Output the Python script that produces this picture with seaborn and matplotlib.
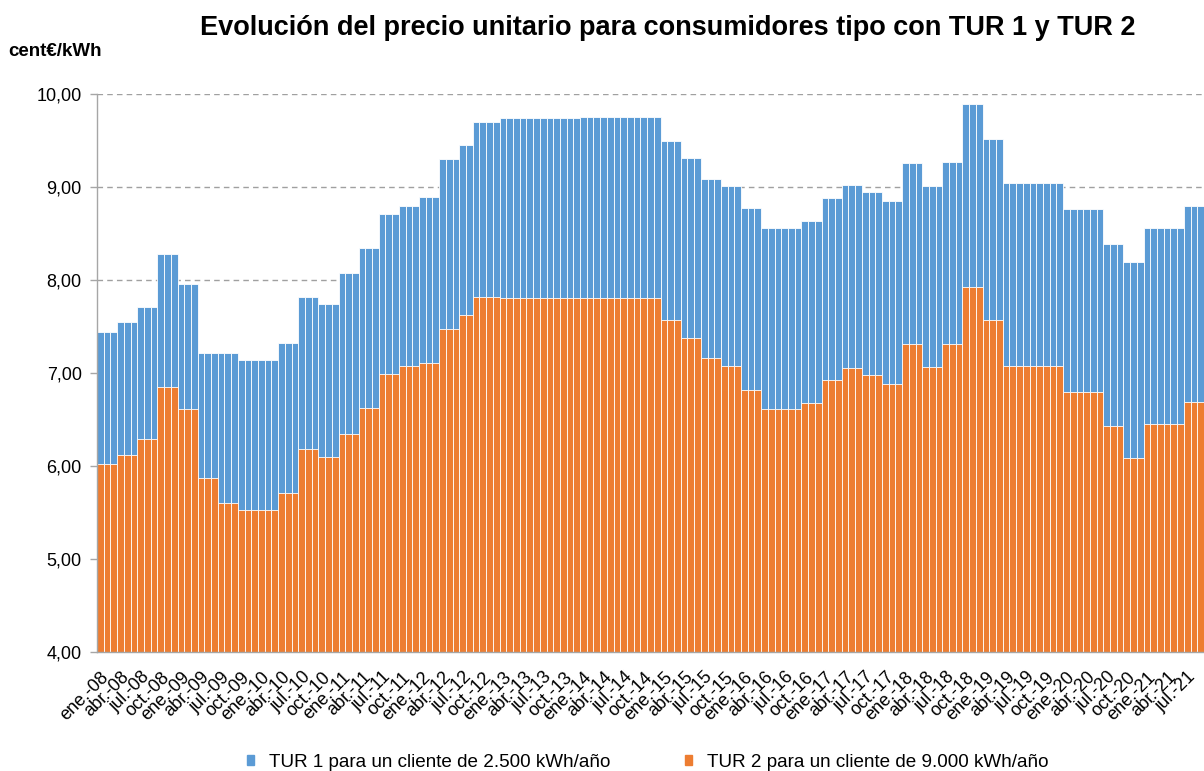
import numpy as np
import seaborn as sns
import matplotlib.pyplot as plt
from matplotlib.patches import Patch

# meses (ene.-08 ... sep.-21)
month_names = ['ene.', 'feb.', 'mar.', 'abr.', 'may.', 'jun.',
               'jul.', 'ago.', 'sep.', 'oct.', 'nov.', 'dic.']
months = [m + '-' + '%02d' % y for y in range(8, 22) for m in month_names][:165]

# TUR 1 para un cliente de 2.500 kWh/año (cent€/kWh)
tur1 = [
    7.44, 7.44, 7.44, 7.55, 7.55, 7.55, 7.71, 7.71, 7.71, 8.28, 8.28, 8.28,  # 2008
    7.96, 7.96, 7.96, 7.22, 7.22, 7.22, 7.21, 7.21, 7.21, 7.14, 7.14, 7.14,  # 2009
    7.14, 7.14, 7.14, 7.32, 7.32, 7.32, 7.82, 7.82, 7.82, 7.74, 7.74, 7.74,  # 2010
    8.07, 8.07, 8.07, 8.34, 8.34, 8.34, 8.71, 8.71, 8.71, 8.80, 8.80, 8.80,  # 2011
    8.89, 8.89, 8.89, 9.30, 9.30, 9.30, 9.45, 9.45, 9.70, 9.70, 9.70, 9.70,  # 2012
    9.74, 9.74, 9.74, 9.74, 9.74, 9.74, 9.74, 9.74, 9.74, 9.74, 9.74, 9.74,  # 2013
    9.75, 9.75, 9.75, 9.75, 9.75, 9.75, 9.75, 9.75, 9.75, 9.75, 9.75, 9.75,  # 2014
    9.50, 9.50, 9.50, 9.31, 9.31, 9.31, 9.09, 9.09, 9.09, 9.01, 9.01, 9.01,  # 2015
    8.77, 8.77, 8.77, 8.56, 8.56, 8.56, 8.56, 8.56, 8.56, 8.63, 8.63, 8.63,  # 2016
    8.88, 8.88, 8.88, 9.02, 9.02, 9.02, 8.95, 8.95, 8.95, 8.85, 8.85, 8.85,  # 2017
    9.26, 9.26, 9.26, 9.01, 9.01, 9.01, 9.27, 9.27, 9.27, 9.89, 9.89, 9.89,  # 2018
    9.52, 9.52, 9.52, 9.04, 9.04, 9.04, 9.04, 9.04, 9.04, 9.04, 9.04, 9.04,  # 2019
    8.76, 8.76, 8.76, 8.76, 8.76, 8.76, 8.39, 8.39, 8.39, 8.19, 8.19, 8.19,  # 2020
    8.56, 8.56, 8.56, 8.56, 8.56, 8.56, 8.80, 8.80, 8.80,                    # 2021
]

# TUR 2 para un cliente de 9.000 kWh/año (cent€/kWh)
tur2 = [
    6.02, 6.02, 6.02, 6.12, 6.12, 6.12, 6.29, 6.29, 6.29, 6.85, 6.85, 6.85,  # 2008
    6.61, 6.61, 6.61, 5.87, 5.87, 5.87, 5.60, 5.60, 5.60, 5.53, 5.53, 5.53,  # 2009
    5.53, 5.53, 5.53, 5.71, 5.71, 5.71, 6.18, 6.18, 6.18, 6.10, 6.10, 6.10,  # 2010
    6.34, 6.34, 6.34, 6.62, 6.62, 6.62, 6.99, 6.99, 6.99, 7.08, 7.08, 7.08,  # 2011
    7.11, 7.11, 7.11, 7.47, 7.47, 7.47, 7.62, 7.62, 7.82, 7.82, 7.82, 7.82,  # 2012
    7.81, 7.81, 7.81, 7.81, 7.81, 7.81, 7.81, 7.81, 7.81, 7.81, 7.81, 7.81,  # 2013
    7.81, 7.81, 7.81, 7.81, 7.81, 7.81, 7.81, 7.81, 7.81, 7.81, 7.81, 7.81,  # 2014
    7.57, 7.57, 7.57, 7.38, 7.38, 7.38, 7.16, 7.16, 7.16, 7.08, 7.08, 7.08,  # 2015
    6.82, 6.82, 6.82, 6.61, 6.61, 6.61, 6.61, 6.61, 6.61, 6.68, 6.68, 6.68,  # 2016
    6.92, 6.92, 6.92, 7.05, 7.05, 7.05, 6.98, 6.98, 6.98, 6.88, 6.88, 6.88,  # 2017
    7.31, 7.31, 7.31, 7.06, 7.06, 7.06, 7.31, 7.31, 7.31, 7.93, 7.93, 7.93,  # 2018
    7.57, 7.57, 7.57, 7.08, 7.08, 7.08, 7.08, 7.08, 7.08, 7.08, 7.08, 7.08,  # 2019
    6.80, 6.80, 6.80, 6.80, 6.80, 6.80, 6.43, 6.43, 6.43, 6.09, 6.09, 6.09,  # 2020
    6.45, 6.45, 6.45, 6.45, 6.45, 6.45, 6.69, 6.69, 6.69,                    # 2021
]

series_labels = ['TUR 1 para un cliente de 2.500 kWh/año',
                 'TUR 2 para un cliente de 9.000 kWh/año']
blue = '#5B9BD5'
orange = '#ED7D31'

sns.set_style('white')
plt.rcParams['font.family'] = ['Liberation Sans', 'DejaVu Sans']
plt.rcParams['text.color'] = 'black'

fig = plt.figure(figsize=(12.04, 7.71), dpi=100)
ax = fig.add_axes([97 / 1204, 1 - 652 / 771, 1 - 97 / 1204, (652 - 94) / 771])

# TUR 1 detras, TUR 2 delante (ambas desde el eje)
sns.barplot(x=months, y=tur1, color=blue, saturation=1, width=1.0,
            edgecolor='white', linewidth=0.6, ax=ax, order=months)
sns.barplot(x=months, y=tur2, color=orange, saturation=1, width=1.0,
            edgecolor='white', linewidth=0.6, ax=ax, order=months)

ax.set_ylim(4, 10)
ax.set_xlim(-0.5, len(months) - 0.5)
ax.set_yticks(np.arange(4, 11, 1))
ax.set_yticklabels(['%d,00' % v for v in range(4, 11)], fontsize=13)
ax.yaxis.grid(True, linestyle=(0, (4, 3)), color='#A0A0A0', linewidth=1)
ax.set_axisbelow(True)

ax.set_xticks(range(0, len(months), 3))
ax.set_xticklabels(months[::3], rotation=45, ha='right',
                   rotation_mode='anchor', fontsize=13)
ax.set_xticks(np.arange(-0.5, len(months), 3), minor=True)
ax.tick_params(axis='x', which='major', length=0, pad=12, labelcolor='black')
ax.tick_params(axis='x', which='minor', length=5, color='#A6A6A6', width=1)
ax.tick_params(axis='y', length=5, color='#A6A6A6', width=1, pad=6, left=True,
               labelcolor='black')
ax.set_xlabel('')
ax.set_ylabel('')

for s in ['top', 'right']:
    ax.spines[s].set_visible(False)
for s in ['left', 'bottom']:
    ax.spines[s].set_color('#A6A6A6')
    ax.spines[s].set_linewidth(1)

fig.text(668 / 1204, 1 - 28 / 771,
         'Evolución del precio unitario para consumidores tipo con TUR 1 y TUR 2',
         ha='center', va='center', fontsize=19.5, fontweight='bold')
fig.text(8 / 1204, 1 - 51 / 771, 'cent€/kWh', ha='left', va='center',
         fontsize=13.5, fontweight='bold')

handles = [Patch(color=blue), Patch(color=orange)]
fig.legend(handles, series_labels, loc='center', bbox_to_anchor=(0.538, 0.011),
           ncol=2, frameon=False, fontsize=13.6, handlelength=0.38,
           handleheight=0.42, handletextpad=0.8, columnspacing=3.9,
           labelcolor='black')

fig.savefig('out.png', dpi=100)
